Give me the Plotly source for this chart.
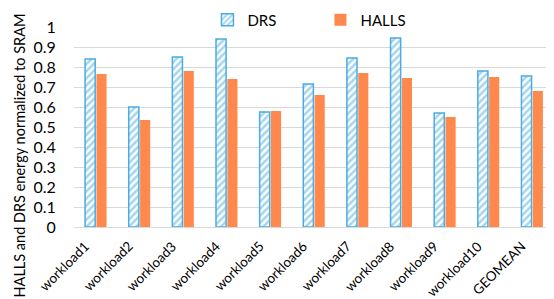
import plotly.graph_objects as go

categories = ["workload1", "workload2", "workload3", "workload4", "workload5",
              "workload6", "workload7", "workload8", "workload9", "workload10", "GEOMEAN"]
drs = [0.84, 0.60, 0.85, 0.94, 0.575, 0.715, 0.845, 0.945, 0.57, 0.78, 0.755]
halls = [0.765, 0.535, 0.78, 0.74, 0.58, 0.66, 0.77, 0.745, 0.55, 0.75, 0.68]
y_title = "HALLS and DRS energy normalized to SRAM"

blue = "#4AACE0"
orange = "#FF884D"
font = "Lato"

fig = go.Figure()
fig.add_trace(go.Bar(
    x=categories, y=drs, name="DRS",
    marker=dict(color="white", line=dict(color=blue, width=1.5),
                pattern=dict(shape="/", fgcolor=blue, bgcolor="white", size=5, solidity=0.5)),
))
fig.add_trace(go.Bar(
    x=categories, y=halls, name="HALLS",
    marker=dict(color=orange, line=dict(width=0)),
))

fig.add_annotation(
    text=y_title, textangle=-90, showarrow=False,
    xref="paper", yref="paper", x=-66/480, y=(219-148)/200,
    xanchor="left", yanchor="middle",
    font=dict(size=14.5, family=font, color="#000000"),
)

# rotated category labels
for cat in categories:
    fig.add_annotation(
        text=cat, textangle=-45, showarrow=False,
        xref="x", yref="paper", x=cat, y=-0.05,
        xanchor="right", yanchor="top", xshift=-2,
        font=dict(size=13.5, family=font, color="#000000"),
        borderpad=0,
    )

fig.update_layout(
    width=554, height=299,
    margin=dict(l=66, r=8, t=19, b=80, autoexpand=False),
    paper_bgcolor="white", plot_bgcolor="white",
    barmode="group", bargap=0.48, bargroupgap=0.11,
    font=dict(family=font, size=14, color="#000000"),
    showlegend=True,
    legend=dict(orientation="h", xref="container", yref="container",
                x=0.36, y=0.96, xanchor="left", yanchor="middle",
                font=dict(size=15), entrywidth=68, entrywidthmode="pixels",
                bgcolor="rgba(0,0,0,0)"),
    xaxis=dict(type="category", categoryorder="array", categoryarray=categories,
               range=[-0.5, len(categories) - 0.5], autorange=False,
               showticklabels=False, showline=True,
               linecolor="#d9d9d9", linewidth=1, ticks=""),
    yaxis=dict(range=[0, 1.0], dtick=0.1, showgrid=True, gridcolor="#d9d9d9",
               zeroline=False, tickfont=dict(size=16), ticks="outside", ticklen=14,
               tickcolor="rgba(0,0,0,0)"),
)

fig.write_html("out.html")
